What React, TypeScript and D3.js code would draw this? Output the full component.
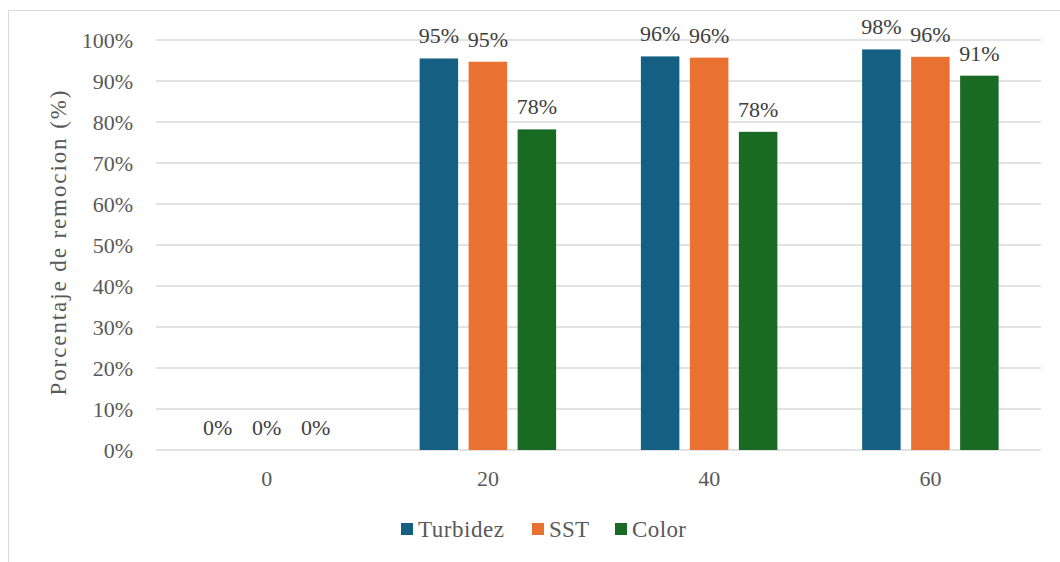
import React, { useEffect, useRef } from "react";
import * as d3 from "d3";

const categories = ["0", "20", "40", "60"];
const seriesNames = ["Turbidez", "SST", "Color"];
const turbidez = [0, 95.5, 96.0, 97.7];
const sst = [0, 94.7, 95.7, 95.9];
const color = [0, 78.2, 77.6, 91.3];
const labelTurbidez = ["0%", "95%", "96%", "98%"];
const labelSst = ["0%", "95%", "96%", "96%"];
const labelColor = ["0%", "78%", "78%", "91%"];
const yTicks = [0, 10, 20, 30, 40, 50, 60, 70, 80, 90, 100];
const colors = ["#156082", "#E97132", "#196B24"];

const W = 1060;
const H = 562;
const FONT = "Liberation Serif";
const FS = 22;
const TXT = "#595959";

export default function App() {
  const ref = useRef<SVGSVGElement | null>(null);
  useEffect(() => {
    const svg = d3.select(ref.current);
    svg.selectAll("*").remove();
    const left = 156, right = 1041, top = 40, bottom = 450;
    const x = d3.scaleBand<string>().domain(categories).range([left, right]);
    const y = d3.scaleLinear().domain([0, 100]).range([bottom, top]);
    const groupW = 3 * 38.5 + 2 * 10.5;
    const xs = d3.scaleBand<string>().domain(seriesNames).range([0, groupW]).paddingInner(10.5 / 49);

    svg.append("rect").attr("x", 8.5).attr("y", 10.5).attr("width", 1100).attr("height", 600)
      .attr("fill", "#fff").attr("stroke", "#d9d9d9").attr("stroke-width", 1);

    const txt = (sel: any, size = FS) => sel.style("font-family", FONT).style("font-size", `${size}px`);

    const g = svg.append("g");
    yTicks.forEach((t) => {
      g.append("line").attr("x1", left).attr("x2", right).attr("y1", y(t)).attr("y2", y(t))
        .attr("stroke", "#d9d9d9").attr("stroke-width", 1.5);
      g.append("text").attr("x", 133).attr("y", y(t)).attr("dy", "0.35em").attr("text-anchor", "end")
        .call(txt).attr("fill", TXT).text(`${t}%`);
    });

    const all = [turbidez, sst, color];
    const labels = [labelTurbidez, labelSst, labelColor];
    categories.forEach((c, i) => {
      const gx = (x(c) as number) + x.bandwidth() / 2 - groupW / 2;
      seriesNames.forEach((s, j) => {
        const v = all[j][i];
        const bx = gx + (xs(s) as number);
        const bw = xs.bandwidth();
        if (v > 0) {
          g.append("rect").attr("x", bx).attr("y", y(v)).attr("width", bw).attr("height", y(0) - y(v))
            .attr("fill", colors[j]);
        }
        g.append("text").attr("x", bx + bw / 2).attr("y", y(v) - 15).attr("text-anchor", "middle")
          .call(txt).attr("fill", "#404040").text(labels[j][i]);
      });
      g.append("text").attr("x", (x(c) as number) + x.bandwidth() / 2).attr("y", 486)
        .attr("text-anchor", "middle").call(txt).attr("fill", TXT).text(c);
    });

    svg.append("text").attr("transform", `translate(66, 243) rotate(-90)`).attr("text-anchor", "middle")
      .call(txt, 23).attr("textLength", 305).attr("lengthAdjust", "spacing")
      .attr("fill", TXT).text("Porcentaje de remocion (%)");

    const legendX = [401, 532, 615];
    const legendLen = [86, 40, 54];
    seriesNames.forEach((s, j) => {
      svg.append("rect").attr("x", legendX[j]).attr("y", 523).attr("width", 12).attr("height", 12).attr("fill", colors[j]);
      svg.append("text").attr("x", legendX[j] + 17).attr("y", 529).attr("dy", "0.35em")
        .call(txt, 23).attr("textLength", legendLen[j]).attr("lengthAdjust", "spacing")
        .attr("fill", TXT).text(s);
    });
  }, []);
  return (
    <svg ref={ref} width={W} height={H} style={{ position: "absolute", left: 0, top: 0, background: "#fff" }} />
  );
}
